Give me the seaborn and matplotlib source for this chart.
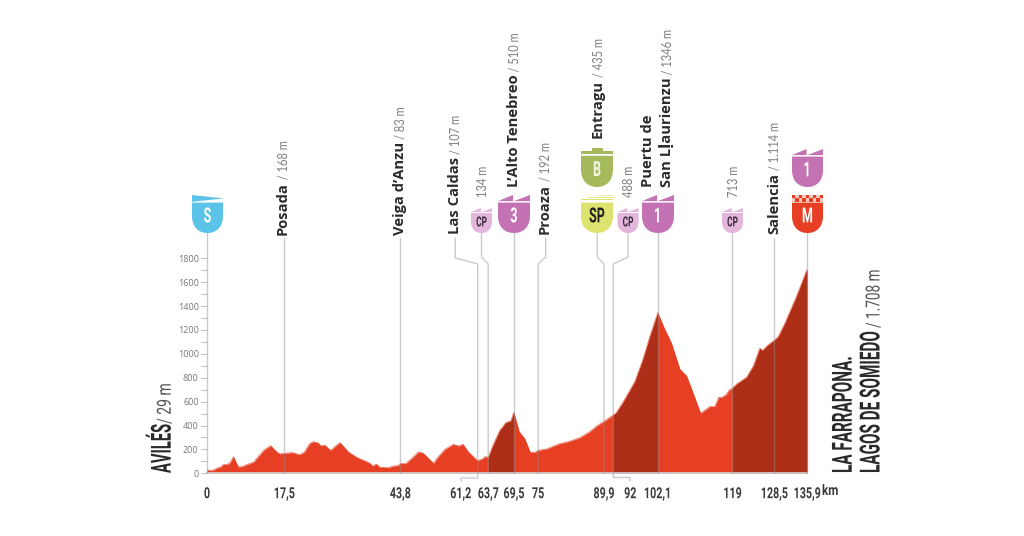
#!/usr/bin/env python3

import numpy as np
import matplotlib
matplotlib.use("Agg")
import matplotlib.pyplot as plt
import seaborn as sns
from matplotlib.patches import PathPatch, Polygon, Rectangle
from matplotlib.patheffects import AbstractPathEffect
from matplotlib.path import Path
from matplotlib.transforms import Affine2D, ScaledTranslation

# profile
km = [0, 1.1, 2.2, 3.1, 3.7, 4.6, 5.2, 6.0, 6.5, 7.1, 7.9, 9.4, 10.6, 11.6, 12.9, 14.4, 15.8,
      16.5, 17.5, 19.4, 20.9, 22, 23.3, 24.1, 25.2, 25.8, 26.6, 28, 29.4, 30.1, 31, 32, 33.9,
      35.8, 36.9, 37.5, 38.4, 39, 41.1, 42.2, 43.3, 43.8, 45, 46.4, 47.9, 49, 50.1, 51.3, 52.4,
      53.9, 55.8, 56.9, 58, 59.2, 61.2, 62.2, 63, 63.7, 64.8, 66.3, 67.7, 68.8, 69.5, 70.7, 72,
      73.2, 74.3, 75, 76.9, 79.7, 82.1, 84.5, 86.7, 88.3, 89.9, 92, 92.7, 94.3, 96.9, 98.7,
      100.3, 102.1, 103.4, 105.2, 107.1, 108.6, 109.7, 111.8, 113.9, 115, 115.9, 116.5, 117.5,
      118.3, 119, 119.9, 122.2, 123.8, 125.2, 125.8, 127.1, 128.5, 129.4, 130.9, 133.5, 135.9]
elevation = [29, 22, 42, 53, 73, 75, 89, 140, 98, 53, 56, 78, 95, 140, 195, 232, 179,
             162, 168, 173, 156, 176, 251, 265, 254, 229, 237, 193, 237, 257, 223, 179, 134,
             103, 84, 61, 78, 53, 47, 61, 64, 83, 81, 126, 179, 168, 128, 84, 140,
             201, 243, 229, 243, 179, 107, 117, 140, 134, 237, 358, 425, 438, 510, 349, 288,
             176, 176, 192, 204, 246, 268, 299, 349, 397, 435, 488, 508, 600, 768, 950,
             1145, 1346, 1229, 1089, 872, 816, 712, 503, 559, 559, 637, 634, 656,
             698, 713, 746, 804, 902, 1047, 1028, 1075, 1114, 1145, 1257, 1480, 1708]
climbs = [(63.7, 69.5), (92, 102.1), (119, 135.9)]

tick_km = [0, 17.5, 43.8, 61.2, 63.7, 69.5, 75, 89.9, 92, 102.1, 119, 128.5, 135.9]
tick_labels = ["0", "17,5", "43,8", "61,2", "63,7", "69,5", "75", "89,9", "92", "102,1", "119", "128,5", "135,9"]
alt_ticks = list(range(0, 1801, 200))

posada = ("Posada", " / 168 m")
veiga = ("Veiga d\u2019Anzu", " / 83 m")
caldas = ("Las Caldas", " / 107 m")
alto = ("L\u2019Alto Tenebreo", " / 510 m")
proaza = ("Proaza", " / 192 m")
entragu = ("Entragu", " / 435 m")
puertu = ("San L\u1e37aurienzu", " / 1346 m")
salencia = ("Salencia", " / 1.114 m")

RED = "#e73f24"
DARK = "#ad2f17"
PURPLE = "#c372b4"
LIGHT_PURPLE = "#e4b6dc"
GREEN = "#a5bb5b"
YELLOW = "#dde36f"
BLUE = "#5cc3e8"
LINE = "#8c8c8c"
NARROW = ["Roboto", "DejaVu Sans"]
LABEL = ["Open Sans", "DejaVu Sans"]
LIGHT = ["Lato", "DejaVu Sans"]

sns.set_theme(style="white")
plt.rcParams["font.family"] = LABEL


class Squeeze(AbstractPathEffect):
    """Narrows a text along its own direction, no condensed font is installed"""

    def __init__(self, sx, center=False):
        super().__init__()
        self.sx = sx
        self.center = center

    def draw_path(self, renderer, gc, tpath, affine, rgbFace=None):
        t = Affine2D()
        if self.center:
            box = tpath.get_extents()
            mid = (box.x0 + box.x1) / 2
            t.translate(-mid, 0).scale(self.sx, 1).translate(mid, 0)
        else:
            t.scale(self.sx, 1)
        renderer.draw_path(gc, tpath, t + affine, rgbFace)


def shield(ov, x0, x1, y0, y1, color, letter, letter_color="white", top="teeth", size=15):
    w = x1 - x0
    h = y1 - y0
    head = y0 + 0.2 * h
    mid = y0 + 0.55 * h
    verts = [(x0, head), (x1, head), (x1, mid),
             (x1, y0 + 0.85 * h), (x0 + 0.78 * w, y1), (x0 + 0.5 * w, y1),
             (x0 + 0.22 * w, y1), (x0, y0 + 0.85 * h), (x0, mid), (x0, head)]
    codes = [Path.MOVETO, Path.LINETO, Path.LINETO,
             Path.CURVE4, Path.CURVE4, Path.CURVE4,
             Path.CURVE4, Path.CURVE4, Path.CURVE4, Path.CLOSEPOLY]
    ov.add_patch(PathPatch(Path(verts, codes), facecolor=color, edgecolor="none", zorder=4))
    if top == "teeth":
        low = y0 + 0.16 * h
        ov.add_patch(Polygon([(x0, low), (x0 + 0.47 * w, y0), (x0 + 0.47 * w, low)], color=color, lw=0, zorder=4))
        ov.add_patch(Polygon([(x0 + 0.5 * w, low), (x1, y0), (x1, low)], color=color, lw=0, zorder=4))
    elif top == "hump":
        ov.add_patch(Rectangle((x0 + 0.33 * w, y0), 0.37 * w, 0.1 * h, color=color, lw=0, zorder=4))
        ov.add_patch(Rectangle((x0, y0 + 0.08 * h), w, 0.08 * h, color=color, lw=0, zorder=4))
    elif top == "stack":
        for i, shift in enumerate([0.5, 0.25, 0.0]):
            ov.add_patch(Rectangle((x0 + shift * w, y0 + i * 0.05 * h), w * (1 - shift), 0.035 * h,
                                   color=color, alpha=0.6 + 0.2 * i, lw=0, zorder=4))
    elif top == "checker":
        sq = w / 9
        ov.add_patch(Rectangle((x0, y0), w, 2 * sq, color=color, alpha=0.3, lw=0, zorder=4))
        for i in range(9):
            for j in range(2):
                if (i + j) % 2 == 0:
                    ov.add_patch(Rectangle((x0 + i * sq, y0 + j * sq), sq, sq, color=color, lw=0, zorder=4))
    elif top == "flag":
        ov.add_patch(Polygon([(x0, y0), (x1 + 1, y0 + 0.09 * h), (x0, y0 + 0.18 * h)], color=color, lw=0, zorder=4))
    txt = ov.text((x0 + x1) / 2, head + (y1 - head) * 0.47, letter, color=letter_color, ha="center", va="center",
                  fontsize=size, fontweight="bold", family=NARROW, zorder=5)
    txt.set_path_effects([Squeeze(0.6, center=True)])


def stacked(ov, fig, x, bottom, name, rest, size=10.6):
    first = ov.text(x, bottom, name, rotation=90, ha="center", va="bottom", fontsize=size,
                    fontweight="bold", color="#2b2b2b", zorder=5)
    ext = first.get_window_extent(fig.canvas.get_renderer())
    grey = ov.text(x, 536 - ext.y1 + 1, rest, rotation=90, ha="center", va="bottom", fontsize=10,
                   family=LIGHT, color="#808080", zorder=5)
    grey.set_path_effects([Squeeze(0.8)])


def narrow_text(ov, x, y, text, size, sx, weight="bold", color="#2b2b2b"):
    # anchored on the baseline, so it starts exactly at x, y
    txt = ov.text(x, y, text, rotation=90, rotation_mode="anchor", ha="left", va="baseline",
                  family=NARROW, fontsize=size, fontweight=weight, color=color)
    txt.set_path_effects([Squeeze(sx)])


def plot_profile():
    fig = plt.figure(figsize=(10.24, 5.36), dpi=100)
    ax = fig.add_axes([207 / 1024, 1 - 473.3 / 536, 600 / 1024, 215 / 536])
    x = np.array(km)
    y = np.array(elevation)

    ax.fill_between(x, y, 0, color=RED, lw=0)
    sns.lineplot(x=x, y=y, color=RED, lw=0.4, ax=ax)
    for start, stop in climbs:
        part = (x >= start) & (x <= stop)
        ax.fill_between(x[part], y[part], 0, color=DARK, lw=0)

    ax.set_xlim(0, 135.9)
    ax.set_ylim(0, 1800)
    ax.set_xticks(tick_km)
    ax.set_xticklabels(tick_labels, family=NARROW, fontsize=11, fontweight="bold", color="#3a3a3a")
    ax.set_yticks(alt_ticks)
    ax.set_yticks(range(100, 1800, 200), minor=True)
    ax.tick_params(axis="x", length=0, pad=10)
    ax.tick_params(axis="y", which="both", left=True, length=4, width=0.7, color="#bdbdbd", pad=2,
                   labelsize=6.5, labelcolor="#777777")
    sns.despine(ax=ax, left=True, right=True, top=True)
    ax.spines["bottom"].set_color("#d0d0d0")
    ax.patch.set_alpha(0)

    # the two labels that sit away from their km
    for label, text in zip(ax.get_xticklabels(), tick_labels):
        label.set_path_effects([Squeeze(0.7, center=True)])
        if text == "61,2":
            label.set_transform(label.get_transform() + ScaledTranslation(-16.5 / 100, 0, fig.dpi_scale_trans))
        if text == "92":
            label.set_transform(label.get_transform() + ScaledTranslation(17 / 100, 0, fig.dpi_scale_trans))

    ov = fig.add_axes([0, 0, 1, 1], zorder=3)
    ov.set_xlim(0, 1024)
    ov.set_ylim(536, 0)
    ov.axis("off")

    to_px = lambda k: 207 + k * 600 / 135.9

    # straight leaders
    for k, top in [(0, 233), (17.5, 238), (43.8, 238), (69.5, 233), (102.1, 233), (119, 233), (128.5, 238), (135.9, 233)]:
        ov.plot([to_px(k)] * 2, [top, 473.3], color=LINE, lw=1, alpha=0.45, zorder=2)
    # leaders with an elbow
    ov.plot([455.3, 455.3, 477.7, 477.7, 461, 461], [238, 258, 264, 478, 478, 481], color=LINE, lw=1, alpha=0.45)
    ov.plot([481.5, 481.5, 488.2, 488.2], [233, 257, 264, 473.3], color=LINE, lw=1, alpha=0.45)
    ov.plot([545.7, 545.7, 538.2, 538.2], [238, 257, 264, 473.3], color=LINE, lw=1, alpha=0.45)
    ov.plot([597.3, 597.3, 604, 604], [233, 257, 264, 473.3], color=LINE, lw=1, alpha=0.45)
    ov.plot([628, 628, 613.3, 613.3, 630, 630], [233, 257, 264, 477.5, 477.5, 481], color=LINE, lw=1, alpha=0.45)

    # shields
    shield(ov, 192, 223, 195, 233, BLUE, "S", top="flag")
    shield(ov, 471, 492, 208, 233, LIGHT_PURPLE, "CP", "#3a2a3a", size=10)
    shield(ov, 498, 530, 195, 233, PURPLE, "3")
    shield(ov, 581, 613, 148, 187, GREEN, "B", "#f2f5df", top="hump")
    shield(ov, 581, 613, 195, 233, YELLOW, "SP", "#222222", top="stack")
    shield(ov, 617.5, 638.5, 208, 233, LIGHT_PURPLE, "CP", "#3a2a3a", size=10)
    shield(ov, 642, 674, 195, 233, PURPLE, "1")
    shield(ov, 722, 743, 208, 233, LIGHT_PURPLE, "CP", "#3a2a3a", size=10)
    shield(ov, 792, 823, 149, 187, PURPLE, "1")
    shield(ov, 792, 823, 195, 233, RED, "M", top="checker")

    # place names
    stacked(ov, fig, 283, 235, *posada)
    stacked(ov, fig, 400, 235, *veiga)
    stacked(ov, fig, 455, 234, *caldas)
    stacked(ov, fig, 514, 187, *alto)
    stacked(ov, fig, 545, 234, *proaza)
    stacked(ov, fig, 598, 138, *entragu)
    stacked(ov, fig, 667, 187, *puertu)
    stacked(ov, fig, 774, 234, *salencia)
    ov.text(648, 187, "Puertu de", rotation=90, ha="center", va="bottom", fontsize=10.6, fontweight="bold", color="#2b2b2b")
    for px, text in [(482, "134 m"), (628, "488 m"), (733, "713 m")]:
        grey = ov.text(px, 198, text, rotation=90, ha="center", va="bottom", fontsize=10, family=LIGHT, color="#808080")
        grey.set_path_effects([Squeeze(0.8)])

    # start and finish
    narrow_text(ov, 170.7, 473, "AVILÉS", 20, 0.53)
    narrow_text(ov, 170.7, 424, "/ 29 m", 14, 0.72, weight="normal", color="#555555")
    narrow_text(ov, 851.7, 473, "LA FARRAPONA.", 20, 0.55)
    narrow_text(ov, 879.5, 473, "LAGOS DE SOMIEDO", 20, 0.55)
    narrow_text(ov, 879.5, 328, "/ 1.708 m", 14, 0.7, weight="normal", color="#555555")
    km_txt = ov.text(822, 491, "km", ha="left", va="center", family=NARROW, fontsize=10.5, fontweight="bold", color="#3a3a3a")
    km_txt.set_path_effects([Squeeze(0.8)])

    plt.savefig("out.png", dpi=100)


def main():
    plot_profile()


if __name__ == "__main__":
    main()
